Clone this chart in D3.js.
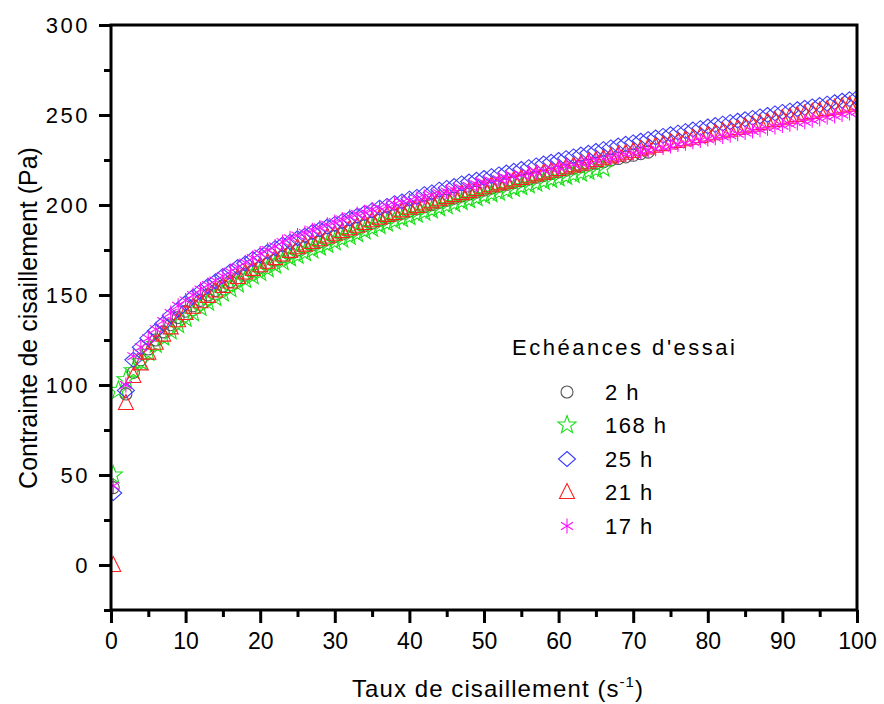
<!DOCTYPE html>
<html><head><meta charset="utf-8">
<script src="https://cdn.jsdelivr.net/npm/d3@7"></script>
<style>html,body{margin:0;padding:0;background:#fff;} svg{display:block;font-family:"Liberation Sans",Arial,sans-serif;}</style>
</head><body>
<svg id="c" width="884" height="704"></svg>
<script>
// ---- data ----
const shearRate = [0.3,1,2,3,4,5,6,7,8,9,10,11,12,13,14,15,16,17,18,19,20,21,22,23,24,25,26,27,28,29,30,31,32,33,34,35,36,37,38,39,40,41,42,43,44,45,46,47,48,49,50,51,52,53,54,55,56,57,58,59,60,61,62,63,64,65,66,67,68,69,70,71,72,73,74,75,76,77,78,79,80,81,82,83,84,85,86,87,88,89,90,91,92,93,94,95,96,97,98,99,100];
const s2h = [43,null,95,107,114,120,125,129.5,133.5,137.5,141,144,147,150,152.5,155,157.5,159.5,161.5,163.5,165.5,167.5,169.5,171.5,173.5,175,176.5,178,179.5,181,182.5,184,185.5,187,188.5,190,191.5,193,194.2,195.4,196.6,197.8,199,200.2,201.4,202.6,203.8,205,206.1,207.2,208.3,209.4,210.4,211.4,212.4,213.4,214.4,215.4,216.4,217.4,218.4,219.4,220.4,221.3,222.2,223.1,224,224.9,225.8,226.7,227.6,228.5,229.4];
const s168h = [50,97,103,108,113,118,122.5,126.5,130,133.5,137,140,143,146,148.5,151,153.5,156,158.5,160.5,162.5,164.5,166.5,168.5,170.5,172,173.5,175,176.5,178,179.5,181,182.5,184,185.5,187,188.5,189.8,191,192.3,193.5,194.8,196,197.2,198.4,199.6,200.7,201.8,202.9,204,205.1,206.1,207.1,208.1,209.1,210.1,211.1,212.1,213.1,214.1,215,215.9,216.8,217.7,218.6,219.5,220.4];
const s25h = [40,null,97,114,121,126,130,134,138.5,142,145.5,149,152,155,157.5,160.5,163,165.5,167.5,170,172,174,176,178,179.5,181.5,183,185,186.5,188,189.5,191,192.5,194,195.5,197,198.5,199.5,201,202,203.5,204.5,206,207,208.5,209.5,210.5,212,213,214,215,216,217,218,219,220,221,222,223,224,225,226,227,228,229,230,231,232,233,234,234.8,235.7,236.6,237.5,238.4,239.3,240.2,241,241.9,242.7,243.6,244.4,245.2,246,246.8,247.6,248.4,249.2,250,250.9,251.7,252.4,253.2,254,254.8,255.5,256.3,257.1,257.9,258.7,259.5];
const s21h = [0,null,90,105,112,118,123.5,128,132,136,140,143.5,146.5,149.5,152.5,155,157.5,160,162.5,164.5,166.5,168.5,170.5,172.5,174.5,176.5,178,179.5,181,182.5,184,185.5,187,188.5,190,191.5,193,194.5,195.5,197,198.5,199.5,200.8,202,203.2,204.4,205.5,206.6,207.7,208.8,209.9,211,212,213,214,215,216,217,218,219,220,221,222,223,224,225,226,227,228,229,230,231,232,232.9,233.8,234.7,235.6,236.5,237.4,238.3,239.2,240.1,241,241.9,242.8,243.7,244.6,245.5,246.4,247.3,248.2,249.1,250,250.9,251.7,252.5,253.3,254.1,254.9,255.7,256.5];
const s17h = [44,null,100,116,121,126,131,135.5,140,144,147,150,153,155.5,158,160.5,163,165.5,168,170.5,173,175,177,179.5,181.5,183,184.5,186,187.5,189,190.5,192,193.5,195,196,197.5,198.5,199.5,200.5,201.5,202.5,203.5,204.5,205.5,206.5,207.5,208.5,209.5,210.5,211.5,212.5,213.5,214.3,215.1,216,216.8,217.6,218.4,219.2,220,220.8,221.6,222.4,223.2,224,224.8,225.6,226.4,227.2,228,228.8,229.6,230.4,231.2,232,232.8,233.6,234.3,235.1,235.8,236.6,237.3,238.1,238.8,239.6,240.3,241.1,241.8,242.6,243.3,244.1,244.8,245.6,246.3,247.1,247.9,248.7,249.5,250.3,251.1,252];
const seriesNames = ["2 h","168 h","25 h","21 h","17 h"];
const xTicks = [0,10,20,30,40,50,60,70,80,90,100];
const yTicks = [0,50,100,150,200,250,300];

// ---- styles ----
const colors = ["#555555","#16e016","#3a3aff","#ff2020","#ff10ff"];
const shapes = ["circle","star","diamond","triangle","asterisk"];
const seriesValues = [s2h,s168h,s25h,s21h,s17h];

const svg = d3.select("#c");
const L=111, R=857, T=25, B=610;
const x = d3.scaleLinear().domain([0,100]).range([L,R]);
const y = d3.scaleLinear().domain([-25,300]).range([B,T]);

function shapePath(s){
  if(s==="circle") return d3.symbol(d3.symbolCircle, Math.PI*36)();
  if(s==="diamond") return "M0,-7.5L8.5,0L0,7.5L-8.5,0Z";
  if(s==="triangle") return "M0,-8.5L7.5,6.5L-7.5,6.5Z";
  if(s==="asterisk") return "M0,-7.5L0,7.5M-6,-3.8L6,3.8M-6,3.8L6,-3.8";
  if(s==="star"){
    let p="";
    for(let i=0;i<10;i++){
      const r = i%2===0 ? 9.5 : 3.9;
      const a = -Math.PI/2 + i*Math.PI/5;
      p += (i===0?"M":"L") + (r*Math.cos(a)).toFixed(2) + "," + (r*Math.sin(a)).toFixed(2);
    }
    return p+"Z";
  }
}

svg.append("clipPath").attr("id","clip").append("rect")
  .attr("x",L+1).attr("y",T).attr("width",R-L-1).attr("height",B-T);

const plot = svg.append("g").attr("clip-path","url(#clip)");
seriesValues.forEach((vals,si)=>{
  const pts = shearRate.map((xv,i)=>({x:xv,y:vals[i]})).filter(d=>d.y!=null && d.y!==undefined);
  plot.append("g").selectAll("path").data(pts).join("path")
    .attr("d",shapePath(shapes[si]))
    .attr("transform",d=>`translate(${x(d.x)},${y(d.y)})`)
    .attr("fill","none").attr("stroke",colors[si]).attr("stroke-width",1.1);
});

// axes
const xAxis = d3.axisBottom(x).tickValues(xTicks).tickSize(13).tickFormat(d3.format("d"));
const gx = svg.append("g").attr("transform",`translate(0,${B})`).call(xAxis);
gx.select(".domain").remove();
gx.selectAll(".tick line").attr("stroke","#000").attr("stroke-width",3);
gx.selectAll(".tick text").attr("font-size",23).attr("fill","#000").attr("y",39).attr("dy",0)
  .attr("font-family","'Liberation Sans',Arial,sans-serif");
const gxm = svg.append("g").attr("transform",`translate(0,${B})`)
  .call(d3.axisBottom(x).tickValues([5,15,25,35,45,55,65,75,85,95]).tickSize(7).tickFormat(""));
gxm.select(".domain").remove();
gxm.selectAll(".tick line").attr("stroke","#000").attr("stroke-width",3);

const yAxis = d3.axisLeft(y).tickValues(yTicks).tickSize(12).tickFormat(d3.format("d"));
const gy = svg.append("g").attr("transform",`translate(${L},0)`).call(yAxis);
gy.select(".domain").remove();
gy.selectAll(".tick line").attr("stroke","#000").attr("stroke-width",3);
gy.selectAll(".tick text").attr("font-size",22).attr("fill","#000").attr("x",-21).attr("dy","0.36em")
  .attr("letter-spacing","2.5px").attr("font-family","'Liberation Sans',Arial,sans-serif");
const gym = svg.append("g").attr("transform",`translate(${L},0)`)
  .call(d3.axisLeft(y).tickValues([-25,25,75,125,175,225,275]).tickSize(7).tickFormat(""));
gym.select(".domain").remove();
gym.selectAll(".tick line").attr("stroke","#000").attr("stroke-width",3);

// frame
svg.append("rect").attr("x",L).attr("y",T).attr("width",R-L).attr("height",B-T)
  .attr("fill","none").attr("stroke","#000").attr("stroke-width",3);

// axis titles
const xt = svg.append("text").attr("x",352).attr("y",697).attr("text-anchor","start")
  .attr("font-size",24).attr("fill","#000").attr("textLength",291).attr("lengthAdjust","spacing");
xt.append("tspan").text("Taux de cisaillement (s");
xt.append("tspan").attr("font-size",15).attr("dy",-10).text("-1");
xt.append("tspan").attr("dy",10).text(")");

svg.append("text").attr("transform",`translate(37,318) rotate(-90)`)
  .attr("text-anchor","middle").attr("font-size",25).attr("fill","#000")
  .text("Contrainte de cisaillement (Pa)");

// legend
svg.append("text").attr("x",512).attr("y",355).attr("font-size",22).attr("fill","#000")
  .attr("textLength",223).attr("lengthAdjust","spacing").text("Echéances d'essai");
const rowY = [392,425,459,492,526];
const lg = svg.append("g");
seriesNames.forEach((n,i)=>{
  lg.append("path").attr("d",shapePath(shapes[i])).attr("transform",`translate(567,${rowY[i]})`)
    .attr("fill","none").attr("stroke",colors[i]).attr("stroke-width",1.1);
  lg.append("text").attr("x",605).attr("y",rowY[i]+8).attr("font-size",22).attr("fill","#000")
    .attr("letter-spacing","1.5px").text(n);
});
</script>
</body></html>
